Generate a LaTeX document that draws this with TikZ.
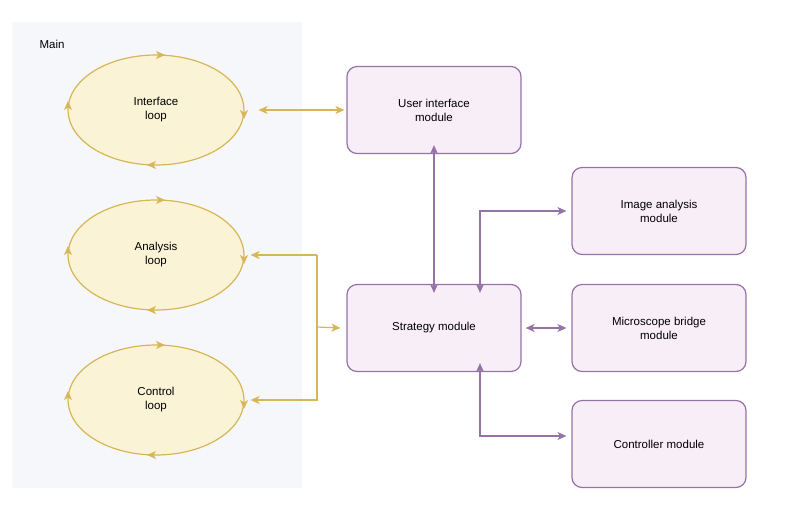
\documentclass[tikz,border=0pt]{standalone}
\usepackage{fontspec}
\setmainfont{Liberation Sans}
\usetikzlibrary{arrows.meta,shapes.geometric,decorations.markings}
\definecolor{ys}{HTML}{D6B656}\definecolor{yf}{HTML}{FBF3D6}
\definecolor{ps}{HTML}{9673A6}\definecolor{pf}{HTML}{F8EEF8}
\definecolor{bg}{HTML}{F5F7FA}
\begin{document}
\begin{tikzpicture}[x=1pt,y=-1pt,font=\fontsize{11.5}{14}\selectfont,
 tip/.style={Stealth[length=9pt,width=8pt,inset=2.5pt]},
 loop/.style={draw=ys,fill=yf,line width=1.2pt,ellipse,minimum width=176pt,minimum height=110pt,align=center,
  postaction={decorate,decoration={markings,
   mark=at position 0.0 with {\arrow[ys]{Stealth[length=9pt,width=8pt,inset=2.5pt,reversed]}},
   mark=at position 0.25 with {\arrow[ys]{Stealth[length=9pt,width=8pt,inset=2.5pt,reversed]}},
   mark=at position 0.5 with {\arrow[ys]{Stealth[length=9pt,width=8pt,inset=2.5pt,reversed]}},
   mark=at position 0.75 with {\arrow[ys]{Stealth[length=9pt,width=8pt,inset=2.5pt,reversed]}}}}},
 mod/.style={draw=ps,fill=pf,line width=1.2pt,rounded corners=10pt,minimum width=174pt,minimum height=87pt,align=center},
 ya/.style={draw=ys,line width=1.2pt,{Stealth[length=9pt,width=8pt,inset=2.5pt]}-{Stealth[length=9pt,width=8pt,inset=2.5pt]}},
 pa/.style={draw=ps,line width=1.2pt,{Stealth[length=9pt,width=8pt,inset=2.5pt]}-{Stealth[length=9pt,width=8pt,inset=2.5pt]}}]
\useasboundingbox (0,0) rectangle (800,512);
\fill[bg] (12,22) rectangle (302,488);
\node[anchor=west] (main) at (36,44) {Main};
\node[loop] (il) at (156,110) {Interface\\loop};
\node[loop] (al) at (156,255) {Analysis\\loop};
\node[loop] (cl) at (156,400) {Control\\loop};
\node[mod] (ui) at (434,110) {User interface\\module};
\node[mod] (st) at (434,328) {Strategy module};
\node[mod] (ia) at (659,211) {Image analysis\\module};
\node[mod] (mb) at (659,328) {Microscope bridge\\module};
\node[mod] (cm) at (659,444) {Controller module};
\coordinate (j) at (317,327);
\draw[ya] ([xshift=14pt]il.east) -- ([xshift=-2pt]ui.west);
\draw[draw=ys,line width=1.2pt,-{Stealth[length=9pt,width=8pt,inset=2.5pt]}] (317,255) -- ([xshift=6pt]al.east);
\draw[draw=ys,line width=1.2pt,-{Stealth[length=9pt,width=8pt,inset=2.5pt]}] (317,255) -- (317,400) -- ([xshift=6pt]cl.east);
\draw[draw=ys,line width=1.2pt,-{Stealth[length=9pt,width=8pt,inset=2.5pt]}] (j) -- ([xshift=-6pt]st.west);
\draw[pa] ([yshift=9pt]ui.south) -- ([yshift=-9pt]st.north);
\draw[pa] ([xshift=46pt,yshift=-9pt]st.north) |- ([xshift=-5pt]ia.west);
\draw[pa] ([xshift=4pt]st.east) -- ([xshift=-5pt]mb.west);
\draw[pa] ([xshift=46pt,yshift=9pt]st.south) |- ([xshift=-5pt,yshift=8pt]cm.west);
\end{tikzpicture}
\end{document}
